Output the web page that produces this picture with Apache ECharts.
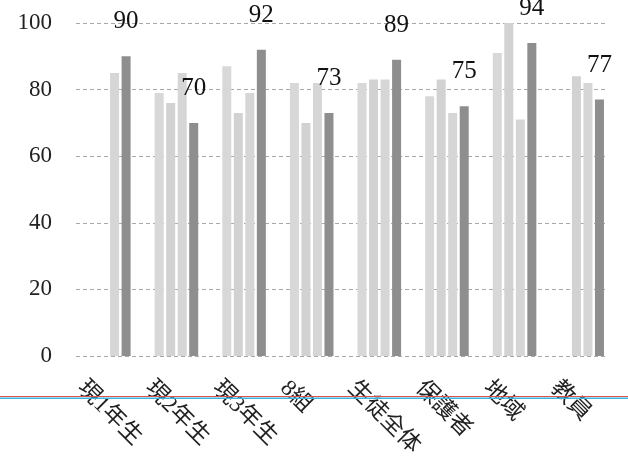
<!DOCTYPE html>
<html>
<head>
<meta charset="utf-8">
<script src="https://cdn.jsdelivr.net/npm/echarts@6/dist/echarts.min.js"></script>
<style>
html,body{margin:0;padding:0;background:#fff;}
#chart{width:628px;height:460px;}
</style>
</head>
<body>
<div id="chart"></div>
<script>
// ---- data ----
const categories = ['現1年生', '現2年生', '現3年生', '8組', '生徒全体', '保護者', '地域', '教員'];
const series1 = [null, 79, 87, 82, 82, 78, 91, null];
const series2 = [null, 76, 73, 70, 83, 83, 100, 84];
const series3 = [85, 85, 79, 82, 83, 73, 71, 82];
const series4 = [90, 70, 92, 73, 89, 75, 94, 77];
const yTicks = { min: 0, max: 100, interval: 20 };

const serif = '"Liberation Serif", "DejaVu Serif", serif';
const labelFont = '"Liberation Serif", "Noto Sans CJK JP", serif';

const chart = echarts.init(document.getElementById('chart'), null, { renderer: 'canvas' });

function barSeries(data, color, withLabel) {
  const s = {
    type: 'bar',
    xAxisIndex: 1,
    yAxisIndex: 1,
    data: data,
    barWidth: 9,
    barGap: '28%',
    itemStyle: { color: color },
    silent: true
  };
  if (withLabel) {
    s.label = {
      show: true,
      position: 'top',
      distance: 22,
      fontFamily: serif,
      fontSize: 25,
      color: '#111'
    };
  }
  return s;
}

chart.setOption({
  animation: false,
  backgroundColor: '#ffffff',
  grid: [
    { left: 76, right: 23, top: 23, bottom: 104 },
    { left: 75, right: 12, top: 23, bottom: 104 },
    { left: 47, right: 40, top: 23, bottom: 104 }
  ],
  xAxis: [
    { gridIndex: 0, type: 'category', data: categories, show: false },
    { gridIndex: 1, type: 'category', data: categories, show: false },
    {
      gridIndex: 2, type: 'category', data: categories,
      axisLine: { show: false }, axisTick: { show: false },
      axisLabel: {
        rotate: -45, margin: 29, interval: 0,
        fontFamily: labelFont, fontSize: 23, color: '#222'
      }
    }
  ],
  yAxis: [
    {
      gridIndex: 0, type: 'value', min: yTicks.min, max: yTicks.max, interval: yTicks.interval,
      axisLine: { show: false }, axisTick: { show: false },
      axisLabel: { margin: 24, fontFamily: serif, fontSize: 23, color: '#222' },
      splitLine: { show: true, lineStyle: { color: '#a8a8a8', width: 1, type: [4, 3] } }
    },
    { gridIndex: 1, type: 'value', min: yTicks.min, max: yTicks.max, interval: yTicks.interval, show: false, splitLine: { show: false } },
    { gridIndex: 2, type: 'value', min: yTicks.min, max: yTicks.max, interval: yTicks.interval, show: false, splitLine: { show: false } }
  ],
  series: [
    barSeries(series1, '#d8d8d8', false),
    barSeries(series2, '#d2d2d2', false),
    barSeries(series3, '#d6d6d6', false),
    barSeries(series4, '#8e8e8e', true)
  ],
  graphic: [
    { type: 'line', z: 100, shape: { x1: 0, y1: 396.5, x2: 628, y2: 396.5 }, style: { stroke: '#d9534f', lineWidth: 1 } },
    { type: 'line', z: 100, shape: { x1: 0, y1: 398.2, x2: 628, y2: 398.2 }, style: { stroke: '#3cb4e0', lineWidth: 1.5 } }
  ]
});
</script>
</body>
</html>
